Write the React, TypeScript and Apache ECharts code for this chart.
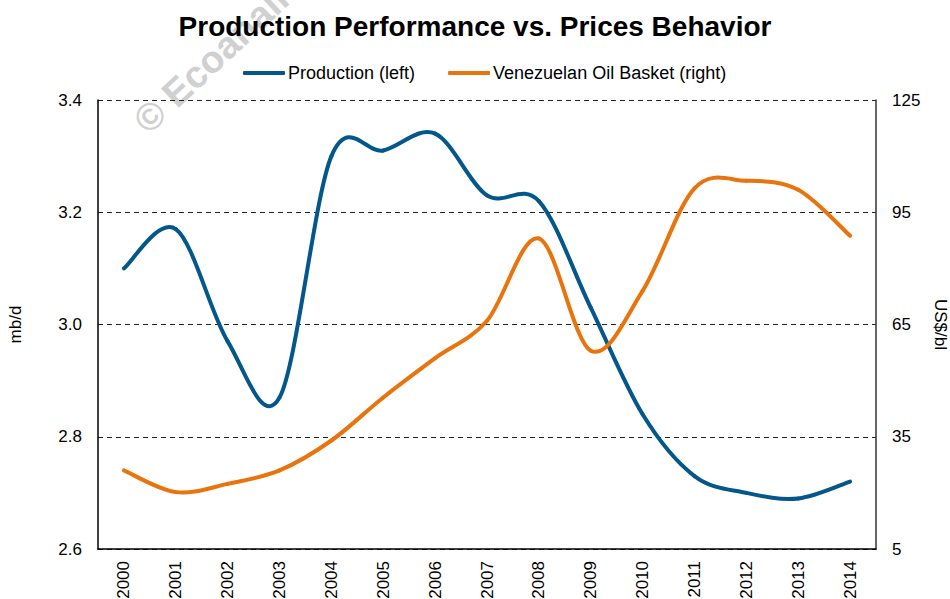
import React, { useEffect, useRef } from "react";
import * as echarts from "echarts";

const years = ["2000","2001","2002","2003","2004","2005","2006","2007","2008","2009","2010","2011","2012","2013","2014"];
const production = [3.10, 3.17, 2.97, 2.87, 3.30, 3.31, 3.34, 3.23, 3.22, 3.03, 2.84, 2.73, 2.70, 2.69, 2.72];
const oilBasket = [26, 20.2, 22.4, 26, 34, 45.5, 56, 66, 88, 58, 74, 101.4, 103.4, 101, 88.7];
const leftTicks = { min: 2.6, max: 3.4, interval: 0.2 };
const rightTicks = { min: 5, max: 125, interval: 30 };

const FONT = "'Liberation Sans', Arial, sans-serif";
const BLUE = "#03578B";
const ORANGE = "#E9730C";

// Smooth line (Catmull-Rom, like a spreadsheet's "smoothed line") drawn through the axes' coordinates
function smoothRenderer(values: number[], color: string) {
  return (params: any, api: any) => {
    const i = params.dataIndex;
    const n = values.length;
    if (i >= n - 1) return null;
    const pt = (k: number) => {
      const kk = Math.max(0, Math.min(n - 1, k));
      return api.coord([kk, values[kk]]);
    };
    const p0 = pt(i - 1);
    const p1 = pt(i);
    const p2 = pt(i + 1);
    const p3 = pt(i + 2);
    return {
      type: "bezierCurve",
      shape: {
        x1: p1[0],
        y1: p1[1],
        x2: p2[0],
        y2: p2[1],
        cpx1: p1[0] + (p2[0] - p0[0]) / 6,
        cpy1: p1[1] + (p2[1] - p0[1]) / 6,
        cpx2: p2[0] - (p3[0] - p1[0]) / 6,
        cpy2: p2[1] - (p3[1] - p1[1]) / 6,
      },
      style: { stroke: color, lineWidth: 4, fill: "none", lineCap: "round", lineJoin: "round" },
    };
  };
}

export default function App() {
  const ref = useRef<HTMLDivElement>(null);
  useEffect(() => {
    if (!ref.current) return;
    const chart = echarts.init(ref.current, null, { renderer: "svg" });
    chart.setOption({
      animation: false,
      backgroundColor: "#ffffff",
      textStyle: { fontFamily: FONT },
      title: {
        text: "Production Performance vs. Prices Behavior",
        left: "center",
        top: 7,
        textStyle: { fontFamily: FONT, fontSize: 28, fontWeight: "bold", color: "#000" },
      },
      graphic: [
        {
          type: "text",
          x: 140,
          y: 126,
          rotation: (43 * Math.PI) / 180,
          z: 0,
          silent: true,
          style: {
            text: "© Ecoanalitica",
            fill: "#d0d0d0",
            font: "bold 38px 'Liberation Sans', Arial, sans-serif",
            align: "left",
            verticalAlign: "middle",
          },
        },
      ],
      legend: {
        left: 243,
        top: 64,
        padding: 0,
        itemWidth: 42,
        itemHeight: 4,
        itemGap: 33,
        textStyle: { fontFamily: FONT, fontSize: 18, color: "#000", padding: [0, 0, 0, -2] },
        data: [
          { name: "Production (left)", icon: "roundRect", itemStyle: { color: BLUE } },
          { name: "Venezuelan Oil Basket (right)", icon: "roundRect", itemStyle: { color: ORANGE } },
        ],
      },
      grid: { left: 98, right: 74, top: 100, bottom: 50, containLabel: false, outerBoundsMode: "none" },
      xAxis: {
        type: "category",
        data: years,
        boundaryGap: true,
        axisLine: { show: true, lineStyle: { color: "#000", width: 1.5 } },
        axisTick: { show: false },
        axisLabel: { rotate: 90, margin: 12, fontSize: 17, color: "#000", fontFamily: FONT },
      },
      yAxis: [
        {
          type: "value",
          min: leftTicks.min,
          max: leftTicks.max,
          interval: leftTicks.interval,
          name: "mb/d",
          nameLocation: "middle",
          nameGap: 74,
          nameTextStyle: { fontSize: 17, color: "#000", fontFamily: FONT },
          axisLine: { show: true, lineStyle: { color: "#000", width: 1.5 } },
          axisTick: { show: false },
          axisLabel: {
            margin: 16,
            fontSize: 17,
            color: "#000",
            fontFamily: FONT,
            formatter: (v: number) => v.toFixed(1),
          },
          splitLine: { show: true, lineStyle: { color: "#222", type: [5, 4], width: 1.2 } },
        },
        {
          type: "value",
          position: "right",
          min: rightTicks.min,
          max: rightTicks.max,
          interval: rightTicks.interval,
          name: "US$/bl",
          nameLocation: "middle",
          nameGap: 56,
          nameRotate: -90,
          nameTextStyle: { fontSize: 17, color: "#000", fontFamily: FONT },
          axisLine: { show: true, lineStyle: { color: "#333", width: 1.5 } },
          axisTick: { show: false },
          axisLabel: { margin: 16, fontSize: 17, color: "#000", fontFamily: FONT },
          splitLine: { show: false },
        },
      ],
      series: [
        {
          name: "Production (left)",
          type: "custom",
          yAxisIndex: 0,
          data: production.map((v, i) => [i, v]),
          encode: { x: 0, y: 1 },
          renderItem: smoothRenderer(production, BLUE),
          itemStyle: { color: BLUE },
          z: 3,
        },
        {
          name: "Venezuelan Oil Basket (right)",
          type: "custom",
          yAxisIndex: 1,
          data: oilBasket.map((v, i) => [i, v]),
          encode: { x: 0, y: 1 },
          renderItem: smoothRenderer(oilBasket, ORANGE),
          itemStyle: { color: ORANGE },
          z: 4,
        },
      ],
    });
    return () => chart.dispose();
  }, []);
  return <div ref={ref} style={{ width: 950, height: 599, position: "absolute", left: 0, top: 0 }} />;
}
